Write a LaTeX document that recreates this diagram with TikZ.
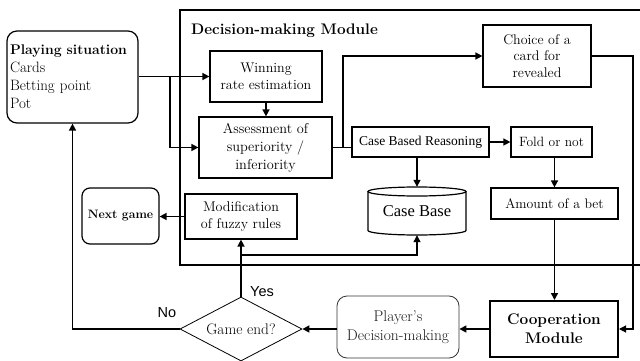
\documentclass[tikz,border=0pt]{standalone}
\usepackage{fontspec}
\newfontfamily\timesf{Liberation Serif}
\newfontfamily\arialf{Liberation Sans}
\usetikzlibrary{arrows.meta,shapes.geometric}
\newcommand\fsm{\fontsize{14}{16.5}\selectfont}
\begin{document}
\begin{tikzpicture}[x=1pt,y=-1pt,
  box/.style={draw, line width=1.2pt, inner sep=0pt, align=center, font=\fsm},
  rbox/.style={box, rounded corners=10pt},
  arr/.style={line width=1.5pt, -{Triangle[length=7pt,width=7pt]}},
  arrthin/.style={line width=1.1pt, -{Triangle[length=7pt,width=7pt]}},
  plain/.style={line width=1.5pt},
  lab/.style={font=\arialf\fontsize{14.5}{16}\selectfont, inner sep=0pt}
]
\useasboundingbox (0,0) rectangle (640,361);

% big module frame
\draw[line width=2pt] (642,10) -- (180,10) -- (180,265) -- (642,265);
\node[anchor=west, inner sep=0pt, font=\bfseries\fontsize{15.3}{18}\selectfont] (title) at (191,31) {Decision-making Module};

% nodes
\node[rbox, minimum width=131pt, minimum height=92pt, text width=125pt, inner xsep=3pt, align=left,
      font=\fontsize{15}{18}\selectfont] (play) at (72.5,77)
  {{\bfseries\fontsize{14}{18}\selectfont Playing situation}\\Cards\\Betting point\\Pot};
\node[box, minimum width=112pt, minimum height=51pt] (win) at (266,76.5) {Winning\\rate estimation};
\node[box, minimum width=133pt, minimum height=61pt, font=\fontsize{14.3}{18}\selectfont] (assess) at (265.5,147.5) {Assessment of\\superiority /\\inferiority};
\node[box, minimum width=108pt, minimum height=62pt, font=\fontsize{14}{16.7}\selectfont] (choice) at (537,56) {Choice of a\\card for\\revealed};
\node[box, minimum width=137pt, minimum height=30pt, font=\timesf\fontsize{13.5}{16}\selectfont] (cbr) at (420.5,142) {Case Based Reasoning};
\node[box, minimum width=81pt, minimum height=30pt, font=\fontsize{13.5}{16}\selectfont] (fold) at (551.5,142) {Fold or not};
\node[box, minimum width=127pt, minimum height=31pt, font=\fontsize{13.8}{16}\selectfont] (amount) at (554.5,203.5) {Amount of a bet};
% case base cylinder
\node[inner sep=0pt, minimum width=98pt, minimum height=48pt, font=\timesf\fontsize{16.5}{18}\selectfont] (cb) at (417,211) {Case Base};
\draw[line width=1.2pt] (417,191.5) ellipse [x radius=49pt, y radius=4.5pt];
\draw[line width=1.2pt] (368,191.5) -- (368,230.5) arc[start angle=180, end angle=360, x radius=49pt, y radius=4.5pt] -- (466,191.5);
\node[box, minimum width=112pt, minimum height=45pt, font=\fontsize{14.1}{16.5}\selectfont] (modif) at (241,216.5) {Modification\\of fuzzy rules};
\node[rbox, rounded corners=8pt, minimum width=77pt, minimum height=56pt, font=\bfseries\fontsize{12.2}{15}\selectfont] (next) at (120.5,216) {Next game};
\node[draw, diamond, line width=0.8pt, inner sep=0pt, aspect=1.9, minimum width=122pt, minimum height=64pt,
      font=\fontsize{15.3}{18}\selectfont] (dia) at (241,329) {Game end?};
\node[rbox, draw=black!80, line width=0.8pt, text=black!90, minimum width=122pt, minimum height=62pt,
      font=\fontsize{15.5}{18.5}\selectfont] (player) at (398,327) {Player’s\\Decision-making};
\node[box, line width=2pt, minimum width=128pt, minimum height=56pt, font=\bfseries\fontsize{15.4}{19}\selectfont] (coop) at (554,329) {Cooperation\\Module};

% junction coordinates
\coordinate (j1) at (170,77);
\coordinate (j2) at (343,147.5);
\coordinate (j3) at (241,255);
\coordinate (rc) at (633,200);

% connectors
\draw[arr] (play.east |- win.west) -- (win.west);
\draw[arr] (j1) |- (assess.west);
\draw[arr] (win.south) -- (win.south |- assess.north);
\draw[plain] (assess.east) -- (assess.east -| cbr.west);
\draw[arr] (j2) |- (choice.west);
\draw[arr] (cbr.east) -- (fold.west);
\draw[arr] (amount.north |- fold.south) -- (amount.north);
\draw[arr] (cb.north |- cbr.south) -- (cb.north);
\draw[arr] (amount.south) -- (amount.south |- coop.north);
\draw[arrthin] (choice.east) -| (rc) |- (coop.east);
\draw[arr] (coop.west) -- (coop.west -| player.east);
\draw[arr] (player.west |- dia.east) -- (dia.east);
\draw[arr] (dia.north) -- (modif.south);
\draw[arrthin] (j3) -| (cb.south);
\draw[arr] (dia.west) -| (play.south);
\draw[arr] (modif.west) -- (modif.west -| next.east);

% labels
\node[lab] (yes) at (262,292) {Yes};
\node[lab] (no) at (167,313) {No};
\end{tikzpicture}
\end{document}
